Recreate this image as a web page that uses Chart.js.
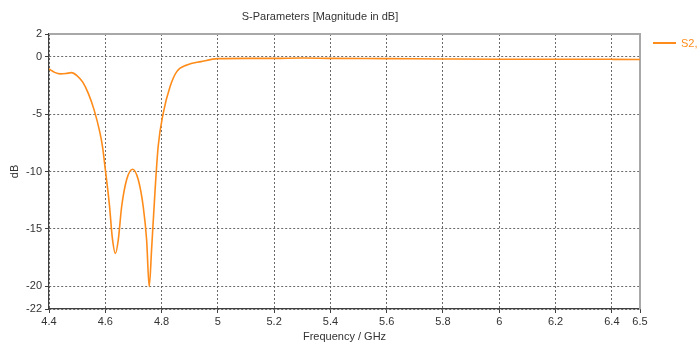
<!DOCTYPE html>
<html>
<head>
<meta charset="utf-8">
<title>S-Parameters</title>
<script src="https://cdn.jsdelivr.net/npm/chart.js@4.4.1/dist/chart.umd.min.js"></script>
<style>
  html, body { margin: 0; padding: 0; background: #fff; overflow: hidden; }
  canvas { display: block; }
</style>
</head>
<body>
<canvas id="chart" width="698" height="342"></canvas>
<script>
'use strict';

// Frequency sweep (GHz) and S2,2 magnitude (dB)
const freqGHz = [
  4.40, 4.42, 4.44, 4.46, 4.48, 4.50, 4.52, 4.54, 4.56, 4.58,
  4.59, 4.60, 4.615, 4.625, 4.636, 4.646, 4.658, 4.676, 4.697, 4.717,
  4.735, 4.747, 4.756, 4.765, 4.777, 4.788, 4.806, 4.83, 4.854, 4.89,
  4.94, 5.00, 5.10, 5.20, 5.30, 5.40, 5.60, 5.80, 6.00, 6.20, 6.40, 6.50
];
const s22dB = [
  -1.05, -1.35, -1.48, -1.45, -1.37, -1.65, -2.2, -3.2, -4.6, -6.5,
  -7.8, -9.8, -13.0, -15.8, -17.15, -16.0, -13.1, -10.7, -9.8, -10.7,
  -13.1, -16.0, -20.05, -16.6, -11.6, -7.8, -4.9, -2.6, -1.28, -0.7,
  -0.41, -0.15, -0.13, -0.13, -0.1, -0.13, -0.15, -0.18, -0.2, -0.2, -0.21, -0.22
];

const xTicks = [4.4, 4.6, 4.8, 5, 5.2, 5.4, 5.6, 5.8, 6, 6.2, 6.4, 6.5];
const yTicks = [2, 0, -5, -10, -15, -20, -22];

const seriesName = 'S2,2';
const chartTitle = 'S-Parameters [Magnitude in dB]';
const xTitle = 'Frequency / GHz';
const yTitle = 'dB';

const lineColor = '#ff8c1a';
const textColor = '#333333';
const fontFamily = '"Liberation Sans", Arial, sans-serif';

// Light frame on the top and right edges of the plot area
const framePlugin = {
  id: 'frame',
  beforeDatasetsDraw(chart) {
    const { ctx, chartArea: a } = chart;
    ctx.save();
    ctx.strokeStyle = '#a8a8a8';
    ctx.lineWidth = 2;
    ctx.beginPath();
    ctx.moveTo(a.left, a.top);
    ctx.lineTo(a.right, a.top);
    ctx.lineTo(a.right, a.bottom);
    ctx.stroke();
    ctx.restore();
  }
};

// Legend entry sitting to the right of the plot, clipped by the canvas edge
const sideLegendPlugin = {
  id: 'sideLegend',
  afterDraw(chart) {
    const { ctx, chartArea: a } = chart;
    const x = a.right + 13;
    const y = a.top + 9;
    ctx.save();
    ctx.strokeStyle = lineColor;
    ctx.lineWidth = 2;
    ctx.beginPath();
    ctx.moveTo(x, y);
    ctx.lineTo(x + 23, y);
    ctx.stroke();
    ctx.fillStyle = lineColor;
    ctx.font = '11px ' + fontFamily;
    ctx.textBaseline = 'middle';
    ctx.fillText(seriesName, x + 28, y + 1);
    ctx.restore();
  }
};

const points = freqGHz.map((f, i) => ({ x: f, y: s22dB[i] }));

new Chart(document.getElementById('chart'), {
  type: 'line',
  data: {
    datasets: [{
      label: seriesName,
      data: points,
      borderColor: lineColor,
      borderWidth: 1.6,
      pointRadius: 0,
      cubicInterpolationMode: 'monotone',
      fill: false,
    }]
  },
  options: {
    responsive: false,
    animation: false,
    layout: { padding: { left: 0, right: 58, top: 0, bottom: 0 } },
    plugins: {
      legend: { display: false },
      tooltip: { enabled: false },
      title: {
        display: true,
        text: chartTitle,
        color: textColor,
        font: { family: fontFamily, size: 11, weight: 'normal', lineHeight: 1.2 },
        padding: { top: 10, bottom: 10.8 },
      },
    },
    scales: {
      x: {
        type: 'linear',
        min: 4.4,
        max: 6.5,
        afterBuildTicks: scale => { scale.ticks = xTicks.map(v => ({ value: v })); },
        afterFit: scale => { scale.height = 33; },
        ticks: {
          autoSkip: false,
          maxRotation: 0,
          color: textColor,
          padding: 2,
          font: { family: fontFamily, size: 11 },
          callback: v => String(v),
        },
        grid: {
          color: '#6a6a6a',
          lineWidth: 1,
          tickLength: 4,
          tickColor: '#404040',
          tickBorderDash: [],
        },
        border: { display: true, color: '#404040', width: 1.2, dash: [2, 2] },
        title: {
          display: true,
          text: xTitle,
          color: textColor,
          font: { family: fontFamily, size: 11, lineHeight: 1 },
          padding: { top: 0, bottom: 0 },
        },
      },
      y: {
        type: 'linear',
        min: -22,
        max: 2,
        afterBuildTicks: scale => { scale.ticks = yTicks.map(v => ({ value: v })); },
        afterFit: scale => { scale.width = 49; },
        ticks: {
          autoSkip: false,
          color: textColor,
          padding: 3,
          font: { family: fontFamily, size: 11 },
          callback: v => String(v),
        },
        grid: {
          color: '#6a6a6a',
          lineWidth: 1,
          tickLength: 4,
          tickColor: '#404040',
          tickBorderDash: [],
        },
        border: { display: true, color: '#404040', width: 1.2, dash: [2, 2] },
        title: {
          display: true,
          text: yTitle,
          color: textColor,
          font: { family: fontFamily, size: 11, lineHeight: 1.2 },
          padding: { top: 8, bottom: 0 },
        },
      },
    },
  },
  plugins: [framePlugin, sideLegendPlugin],
});
</script>
</body>
</html>
